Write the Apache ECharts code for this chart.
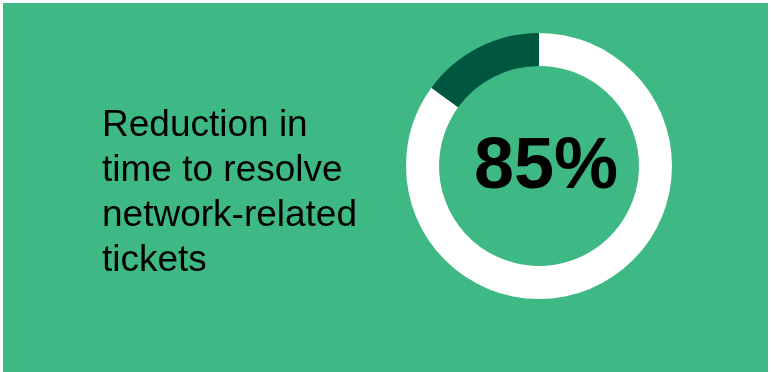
<!DOCTYPE html>
<html>
<head>
<meta charset="utf-8">
<script src="https://cdn.jsdelivr.net/npm/echarts@6/dist/echarts.min.js"></script>
<style>
    html, body { margin: 0; padding: 0; background: #fff; }
    #chart { position: absolute; left: 3px; top: 3px; width: 765px; height: 369px; }
</style>
</head>
<body>
<div id="chart"></div>
<script>
var sliceNames = ['Reduced', 'Remaining'];
var sliceValues = [85, 15];
var sliceColors = ['#ffffff', '#00573f'];
var headline = '85%';
var caption = ['Reduction in', 'time to resolve', 'network-related', 'tickets'];

var donutChart = echarts.init(document.getElementById('chart'));

var pieData = [];
for (var i = 0; i < sliceValues.length; i++) {
    pieData.push({
        name: sliceNames[i],
        value: sliceValues[i],
        itemStyle: { color: sliceColors[i] }
    });
}

var option = {
    backgroundColor: '#3eb984',
    animation: false,
    title: [{
        text: caption.join('\n'),
        left: 94,
        top: 95,
        textStyle: {
            fontFamily: 'Liberation Sans, Arial, sans-serif',
            fontWeight: 'normal',
            fontSize: 37,
            lineHeight: 45,
            color: '#000'
        }
    }, {
        text: headline,
        left: 538,
        top: 160,
        textAlign: 'center',
        textVerticalAlign: 'middle',
        textStyle: {
            fontFamily: 'Liberation Sans, Arial, sans-serif',
            fontWeight: 'bold',
            fontSize: 72,
            color: '#000'
        }
    }],
    series: [{
        type: 'pie',
        center: [536, 163],
        radius: [100, 133],
        startAngle: 90,
        clockwise: true,
        silent: true,
        label: { show: false },
        labelLine: { show: false },
        data: pieData
    }]
};
donutChart.setOption(option);
</script>
</body>
</html>
